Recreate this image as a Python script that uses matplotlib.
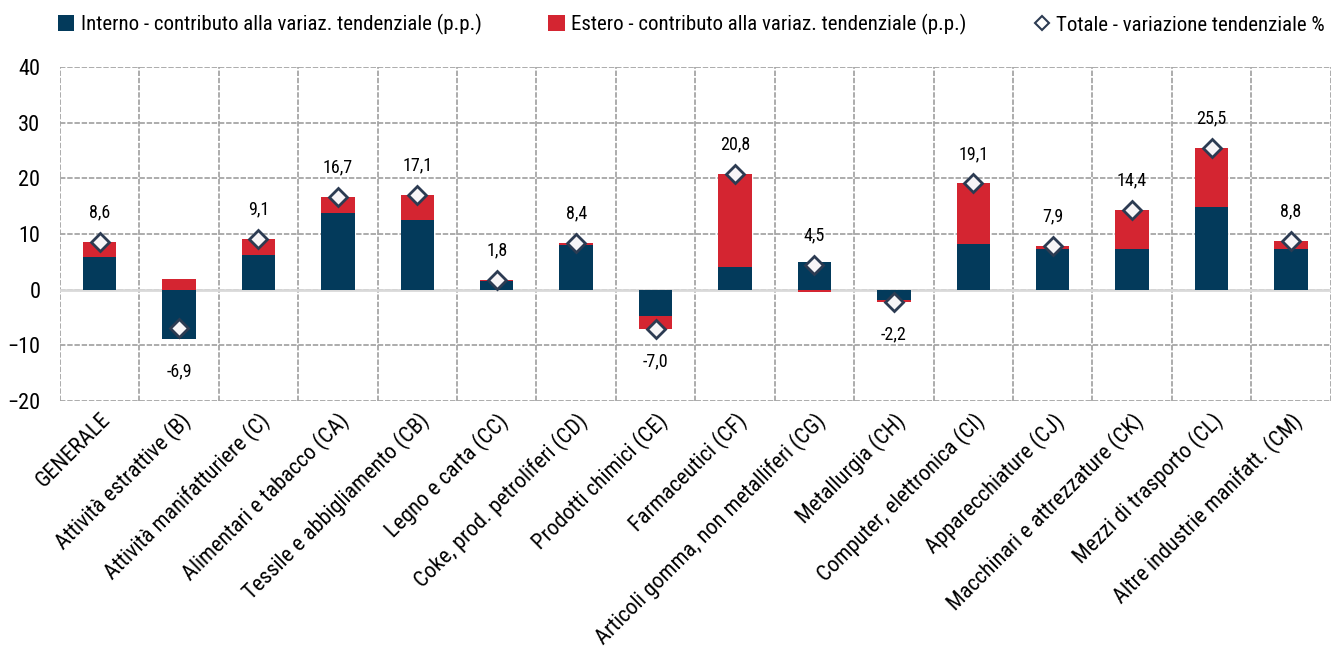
import numpy as np
import matplotlib
matplotlib.use("Agg")
import matplotlib.pyplot as plt
from matplotlib import font_manager
from matplotlib.lines import Line2D
from matplotlib.patches import Patch

# look for a narrow sans font, similar to Arial Narrow
prefs = ["Liberation Sans Narrow", "Arial Narrow", "DejaVu Sans Condensed",
         "Roboto Condensed", "Open Sans Condensed", "Noto Sans Condensed"]
names = {f.name: f for f in font_manager.fontManager.ttflist}
narrow = None
for p in prefs:
    if p in names:
        narrow = p
        break
if narrow is None:
    cands = [f for f in font_manager.fontManager.ttflist
             if f.stretch in ("condensed", "semi-condensed", "extra-condensed") and f.style == "normal"]
    if cands:
        narrow = cands[0].name
        plt.rcParams['font.stretch'] = cands[0].stretch
plt.rcParams['font.family'] = [narrow or 'Liberation Sans', 'DejaVu Sans']

categories = ["GENERALE", "Attività estrattive (B)", "Attività manifatturiere (C)",
              "Alimentari e tabacco (CA)", "Tessile e abbigliamento (CB)",
              "Legno e carta (CC)", "Coke, prod. petroliferi (CD)",
              "Prodotti chimici (CE)", "Farmaceutici (CF)",
              "Articoli gomma, non metalliferi (CG)", "Metallurgia (CH)",
              "Computer, elettronica (CI)", "Apparecchiature (CJ)",
              "Macchinari e attrezzature (CK)", "Mezzi di trasporto (CL)",
              "Altre industrie manifatt. (CM)"]
interno = [5.8, -8.9, 6.2, 13.7, 12.6, 1.5, 8.0, -4.8, 4.0, 4.9, -1.8, 8.3, 7.3, 7.3, 14.8, 7.3]
estero = [2.8, 2.0, 2.9, 3.0, 4.5, 0.3, 0.4, -2.2, 16.8, -0.4, -0.4, 10.8, 0.6, 7.1, 10.7, 1.5]
totale = [8.6, -6.9, 9.1, 16.7, 17.1, 1.8, 8.4, -7.0, 20.8, 4.5, -2.2, 19.1, 7.9, 14.4, 25.5, 8.8]

navy = "#033a5b"
red = "#d42531"

interno = np.array(interno)
estero = np.array(estero)
x = np.arange(len(categories))

fig = plt.figure(figsize=(13.32, 6.52), dpi=100)
ax = fig.add_axes([0.045, 0.385, 0.954, 0.512])

# excel-style stacking: same sign stacks, opposite sign starts at zero
bottom_est = np.where(np.sign(estero) == np.sign(interno), interno, 0)
ax.bar(x, interno, width=0.42, color=navy, zorder=3)
ax.bar(x, estero, width=0.42, bottom=bottom_est, color=red, zorder=3)
ax.plot(x, totale, linestyle='none', marker='D', markersize=9.5,
        markerfacecolor='#f7f5f7', markeredgecolor='#2c3b52', markeredgewidth=2, zorder=4)

neg_low = np.minimum(interno, 0) + np.minimum(estero, 0)
for i, t in enumerate(totale):
    lab = f"{t:.1f}".replace('.', ',')
    if t >= 0:
        ax.text(i, t + 5.3, lab, ha='center', va='center', fontsize=13)
    else:
        ax.text(i, min(t, neg_low[i]) - 5.8, lab, ha='center', va='center', fontsize=13)

ax.set_ylim(-20, 40)
ax.set_xlim(-0.5, len(categories) - 0.5)
ax.set_yticks(np.arange(-20, 41, 10))
ax.set_xticks(x)
ax.set_xticks(np.arange(-0.5, len(categories), 1), minor=True)
ax.set_xticklabels(categories, rotation=45, ha='right', rotation_mode='anchor', fontsize=16)
ax.tick_params(axis='y', labelsize=16, length=0, pad=14)
ax.tick_params(axis='x', which='both', length=0, pad=6)
ax.grid(axis='y', which='major', color='#a6a6a6', linestyle=(0, (3, 1)), linewidth=1.3, zorder=0)
ax.grid(axis='x', which='minor', color='#a6a6a6', linestyle=(0, (3, 1)), linewidth=1.3, zorder=0)
ax.axhline(0, color='#d9d9d9', linewidth=2, zorder=2)
for s in ax.spines.values():
    s.set_visible(False)

handles = [Patch(facecolor=navy), Patch(facecolor=red),
           Line2D([], [], linestyle='none', marker='D', markersize=7,
                  markerfacecolor='white', markeredgecolor='#2c3b52', markeredgewidth=1.5)]
labels = ["Interno - contributo alla variaz. tendenziale (p.p.)",
          "Estero - contributo alla variaz. tendenziale (p.p.)",
          "Totale - variazione tendenziale %"]
fig.legend(handles, labels, loc='center', bbox_to_anchor=(0.519, 0.962), ncol=3, frameon=False,
           fontsize=15, handlelength=0.8, handleheight=0.8, handletextpad=0.3, columnspacing=3.2)

fig.savefig("out.png", dpi=100)
